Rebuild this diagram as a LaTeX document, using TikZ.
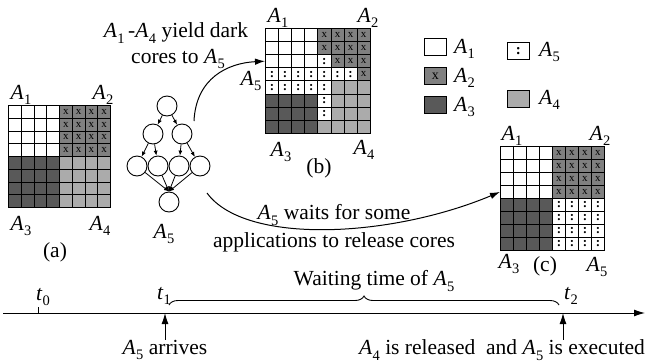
\documentclass[tikz,border=0pt]{standalone}
\usepackage{fontspec}
\setmainfont{Liberation Serif}
\usetikzlibrary{arrows.meta,decorations.pathreplacing}

% italic letter with a text-size subscript
\newcommand\sub[2]{\textit{#1}\kern0.3pt\raisebox{-0.25em}{\fontsize{14.5}{14.5}\selectfont #2}}
\newcommand\An[1]{\sub{A}{#1}}

\definecolor{coreX}{gray}{0.50}
\definecolor{coreK}{gray}{0.35}
\definecolor{coreG}{gray}{0.67}

% symbol printed inside a core of each kind
\def\glyphW{}
\def\glyphX{x}
\def\glyphK{}
\def\glyphG{}
\def\glyphD{{\fontsize{13}{13}\selectfont\textbf{:}}}

% #1 name, #2 left, #3 top, #4 cell size, #5 rows of core kinds
\newcommand\coregrid[5]{%
  \foreach \rowspec [count=\r from 0] in {#5} {%
    \foreach \c [count=\k from 0] in \rowspec {%
      \node[core, minimum size=#4pt, core\c] (#1-\r-\k) at (#2+\k*#4, #3+\r*#4) {\csname glyph\c\endcsname};
    }
  }%
}

\tikzset{
  core/.style={draw, line width=0.9pt, inner sep=0pt, anchor=north west,
    font=\fontsize{11}{11}\selectfont},
  coreW/.style={fill=white},
  coreX/.style={fill=coreX},
  coreK/.style={fill=coreK},
  coreG/.style={fill=coreG},
  coreD/.style={fill=white},
  legendbox/.style={core, minimum width=22pt, minimum height=17pt},
  task/.style={circle, draw, line width=0.9pt, minimum size=20pt, inner sep=0pt},
  dep/.style={line width=0.8pt, -{Latex[length=5pt,width=4pt]}},
  bigarrow/.style={line width=1pt, -{Latex[length=10pt,width=6.5pt]}},
  axisline/.style={line width=1pt, -{Latex[length=11pt,width=7pt]}},
  txt/.style={inner sep=0pt},
  lbl/.style={inner sep=0pt, anchor=base},
}

\begin{document}
\begin{tikzpicture}[x=1pt, y=-1pt, font=\fontsize{21.5}{24}\selectfont]
\useasboundingbox (0,0) rectangle (647,362);

% ---------------- core grids ----------------
\coregrid{ga}{8}{105}{12.75}{
  {W,W,W,W,X,X,X,X},{W,W,W,W,X,X,X,X},{W,W,W,W,X,X,X,X},{W,W,W,W,X,X,X,X},
  {K,K,K,K,G,G,G,G},{K,K,K,K,G,G,G,G},{K,K,K,K,G,G,G,G},{K,K,K,K,G,G,G,G}}
\coregrid{gb}{265}{28}{13.1}{
  {W,W,W,W,X,X,X,X},{W,W,W,W,X,X,X,X},{W,W,W,W,D,X,X,X},{D,D,D,D,D,D,D,X},
  {D,D,D,D,D,G,G,G},{K,K,K,K,D,G,G,G},{K,K,K,K,D,G,G,G},{K,K,K,K,G,G,G,G}}
\coregrid{gc}{500}{146}{13}{
  {W,W,W,W,X,X,X,X},{W,W,W,W,X,X,X,X},{W,W,W,W,X,X,X,X},{W,W,W,W,X,X,X,X},
  {K,K,K,K,D,D,D,D},{K,K,K,K,D,D,D,D},{K,K,K,K,D,D,D,D},{K,K,K,K,D,D,D,D}}

% grid (a) labels
\node[lbl] (la1) at (21,99) {\An1};
\node[lbl] (la2) at (103,99) {\An2};
\node[lbl] (la3) at (21,230) {\An3};
\node[lbl] (la4) at (100,230) {\An4};
\node[txt] (capa) at (55,252) {(a)};

% grid (b) labels
\node[lbl] (lb1) at (278,22) {\An1};
\node[lbl] (lb2) at (368,22) {\An2};
\node[txt] (lb5) at (251,81) {\An5};
\node[lbl] (lb3) at (281,156) {\An3};
\node[lbl] (lb4) at (364,154) {\An4};
\node[txt] (capb) at (319,168) {(b)};

% grid (c) labels
\node[lbl] (lc1) at (512,140) {\An1};
\node[lbl] (lc2) at (600,140) {\An2};
\node[txt] (lc3) at (509,264) {\An3};
\node[txt] (capc) at (545,266) {(c)};
\node[txt] (lc5) at (597,267) {\An5};

% ---------------- legend ----------------
\node[legendbox, coreW] (lgW) at (424,38) {};
\node[legendbox, coreX, font=\fontsize{14}{14}\selectfont] (lgX) at (424,67) {x};
\node[legendbox, coreK] (lgK) at (424,96) {};
\node[legendbox, coreD] (lgD) at (507,42) {\fontsize{15}{15}\selectfont\textbf{:}};
\node[legendbox, coreG] (lgG) at (507,90) {};
\node[txt, anchor=west] (lgWt) at ([xshift=7pt,yshift=-2pt]lgW.east) {\An1};
\node[txt, anchor=west] (lgXt) at ([xshift=7pt,yshift=-2pt]lgX.east) {\An2};
\node[txt, anchor=west] (lgKt) at ([xshift=7pt,yshift=-2pt]lgK.east) {\An3};
\node[txt, anchor=west] (lgDt) at ([xshift=9pt,yshift=-1pt]lgD.east) {\An5};
\node[txt, anchor=west] (lgGt) at ([xshift=9pt,yshift=-1pt]lgG.east) {\An4};

% ---------------- task graph of A5 ----------------
\node[task] (r)   at (167,106) {};
\node[task] (m1)  at (153,134) {};
\node[task] (m2)  at (182,134) {};
\node[task] (l1)  at (137,166) {};
\node[task] (l2)  at (158,166) {};
\node[task] (l3)  at (179,166) {};
\node[task] (l4)  at (200,166) {};
\node[task] (bot) at (169,202) {};
\node[txt] (dagname) at (164,234) {\An5};
\draw[dep] (r) -- (m1);
\draw[dep] (r) -- (m2);
\draw[dep] (m1) -- (l1);
\draw[dep] (m1) -- (l2);
\draw[dep] (m2) -- (l3);
\draw[dep] (m2) -- (l4);
\foreach \n in {l1,l2,l3,l4} \draw[dep] (\n) -- (bot.north);

% ---------------- curved arrows ----------------
\node[txt] (yield1) at (176,33) {\An1\,-\An4 yield dark};
\node[txt] (yield2) at (178,59) {cores to \An5};
\coordinate (c1s) at (194,121);
\draw[bigarrow] (c1s) .. controls (196,78) and (228,63) .. (gb-2-0.west);

\coordinate (c2s) at (207,193);
\draw[bigarrow] (c2s) .. controls (245,245) and (390,238) .. (gc-3-0.west);
\node[txt] (wait1) at (334,215) {\An5 waits for some};
\node[txt] (wait2) at (334,242) {applications to release cores};

% ---------------- timeline ----------------
\coordinate (ax0) at (3,313);
\coordinate (ax1) at (645,313);
\draw[axisline] (ax0) -- (ax1);
\coordinate (t0) at (38,313);
\coordinate (t1) at (165,313);
\coordinate (t2) at (563,313);
\draw[line width=0.8pt] (t0) -- ++(0,-6);
\node[txt] (t0l) at (43,297) {\sub{t}{0}};
\node[txt] (t1l) at (164,296) {\sub{t}{1}};
\node[txt] (t2l) at (571,296) {\sub{t}{2}};

\coordinate (brL) at (169,305);
\coordinate (brR) at (559,305);
\draw[line width=0.9pt, decorate, decoration={brace, amplitude=9pt}] (brL) -- (brR);
\node[txt] (waitt) at (374,281) {Waiting time of \An5};

\node[txt] (arrv) at (165,350) {\An5 arrives};
\node[txt, anchor=east] (rel) at (645,350) {\An4 is released\ \ and \An5 is executed};
\draw[axisline] (arrv.north -| t1) -- (t1);
\draw[axisline] (rel.north -| t2) -- (t2);
\end{tikzpicture}
\end{document}
